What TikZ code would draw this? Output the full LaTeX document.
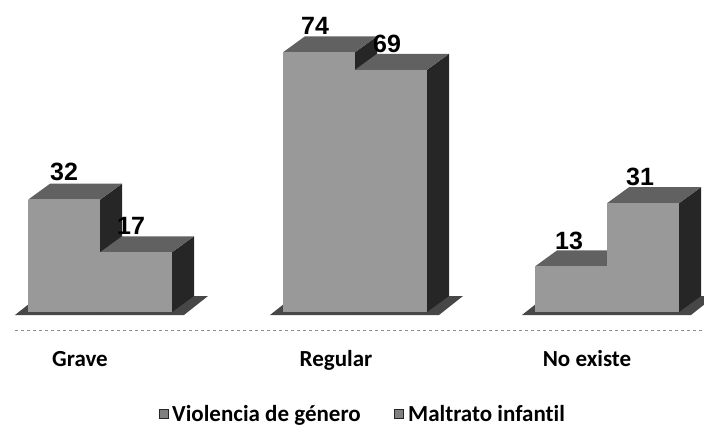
\documentclass[tikz,border=0pt]{standalone}
\usepackage{fontspec}
\setmainfont{Carlito}[Ligatures=NoCommon]
\newfontfamily\numfont{Liberation Sans}
\begin{document}
\begin{tikzpicture}[x=1pt,y=-1pt,
  frontf/.style={fill=black!40},
  topf/.style={fill=black!62},
  sidef/.style={fill=black!85},
  floorf/.style={fill=black!72},
  num/.style={font=\numfont\bfseries\fontsize{25}{25}\selectfont, anchor=base west, inner sep=0pt},
  cat/.style={font=\bfseries\fontsize{23}{23}\selectfont, anchor=base, inner sep=0pt},
  leg/.style={font=\bfseries\fontsize{23}{23}\selectfont, anchor=base west, inner sep=0pt},
  legbox/.style={fill=black!50, draw=black!85, line width=1pt, minimum size=9pt, inner sep=0pt}]
\useasboundingbox (0,0) rectangle (704,432);
\newcommand{\cuboid}[3]{%
  \fill[sidef] (#2,#3) -- (#2+22,#3-16) -- (#2+22,296) -- (#2,312) -- cycle;
  \fill[topf] (#1,#3) -- (#1+22,#3-16) -- (#2+22,#3-16) -- (#2,#3) -- cycle;
  \fill[frontf] (#1,#3) rectangle (#2,312);}
\newcommand{\floorslab}[2]{%
  \fill[floorf] (#1-13,315) -- (#2+12,315) -- (#2+36,296) -- (#1+11,296) -- cycle;}
% baseline
\draw[black!45, dashed, line width=1pt] (15,330) -- (704,330);
% Grave
\floorslab{28}{172}
\cuboid{28}{100}{199.7}
\cuboid{100}{172}{252.3}
% Regular
\floorslab{283}{427}
\cuboid{283}{355}{52.3}
\cuboid{355}{427}{69.8}
% No existe
\floorslab{535}{679}
\cuboid{535}{607}{266.4}
\cuboid{607}{679}{203.2}
% values
\node[num] (v1) at (50,180) {32};
\node[num] (m1) at (117,234) {17};
\node[num] (v2) at (301,34) {74};
\node[num] (m2) at (373,52) {69};
\node[num] (v3) at (555,249) {13};
\node[num] (m3) at (626,185) {31};
% categories
\node[cat] (c1) at (80,366) {Grave};
\node[cat] (c2) at (336,366) {Regular};
\node[cat] (c3) at (587,366) {No existe};
% legend
\node[legbox] (k1) at (164,414) {};
\node[leg] (l1) at (172,421) {Violencia de género};
\node[legbox] (k2) at (399,414) {};
\node[leg] (l2) at (408,421) {Maltrato infantil};
\end{tikzpicture}
\end{document}
